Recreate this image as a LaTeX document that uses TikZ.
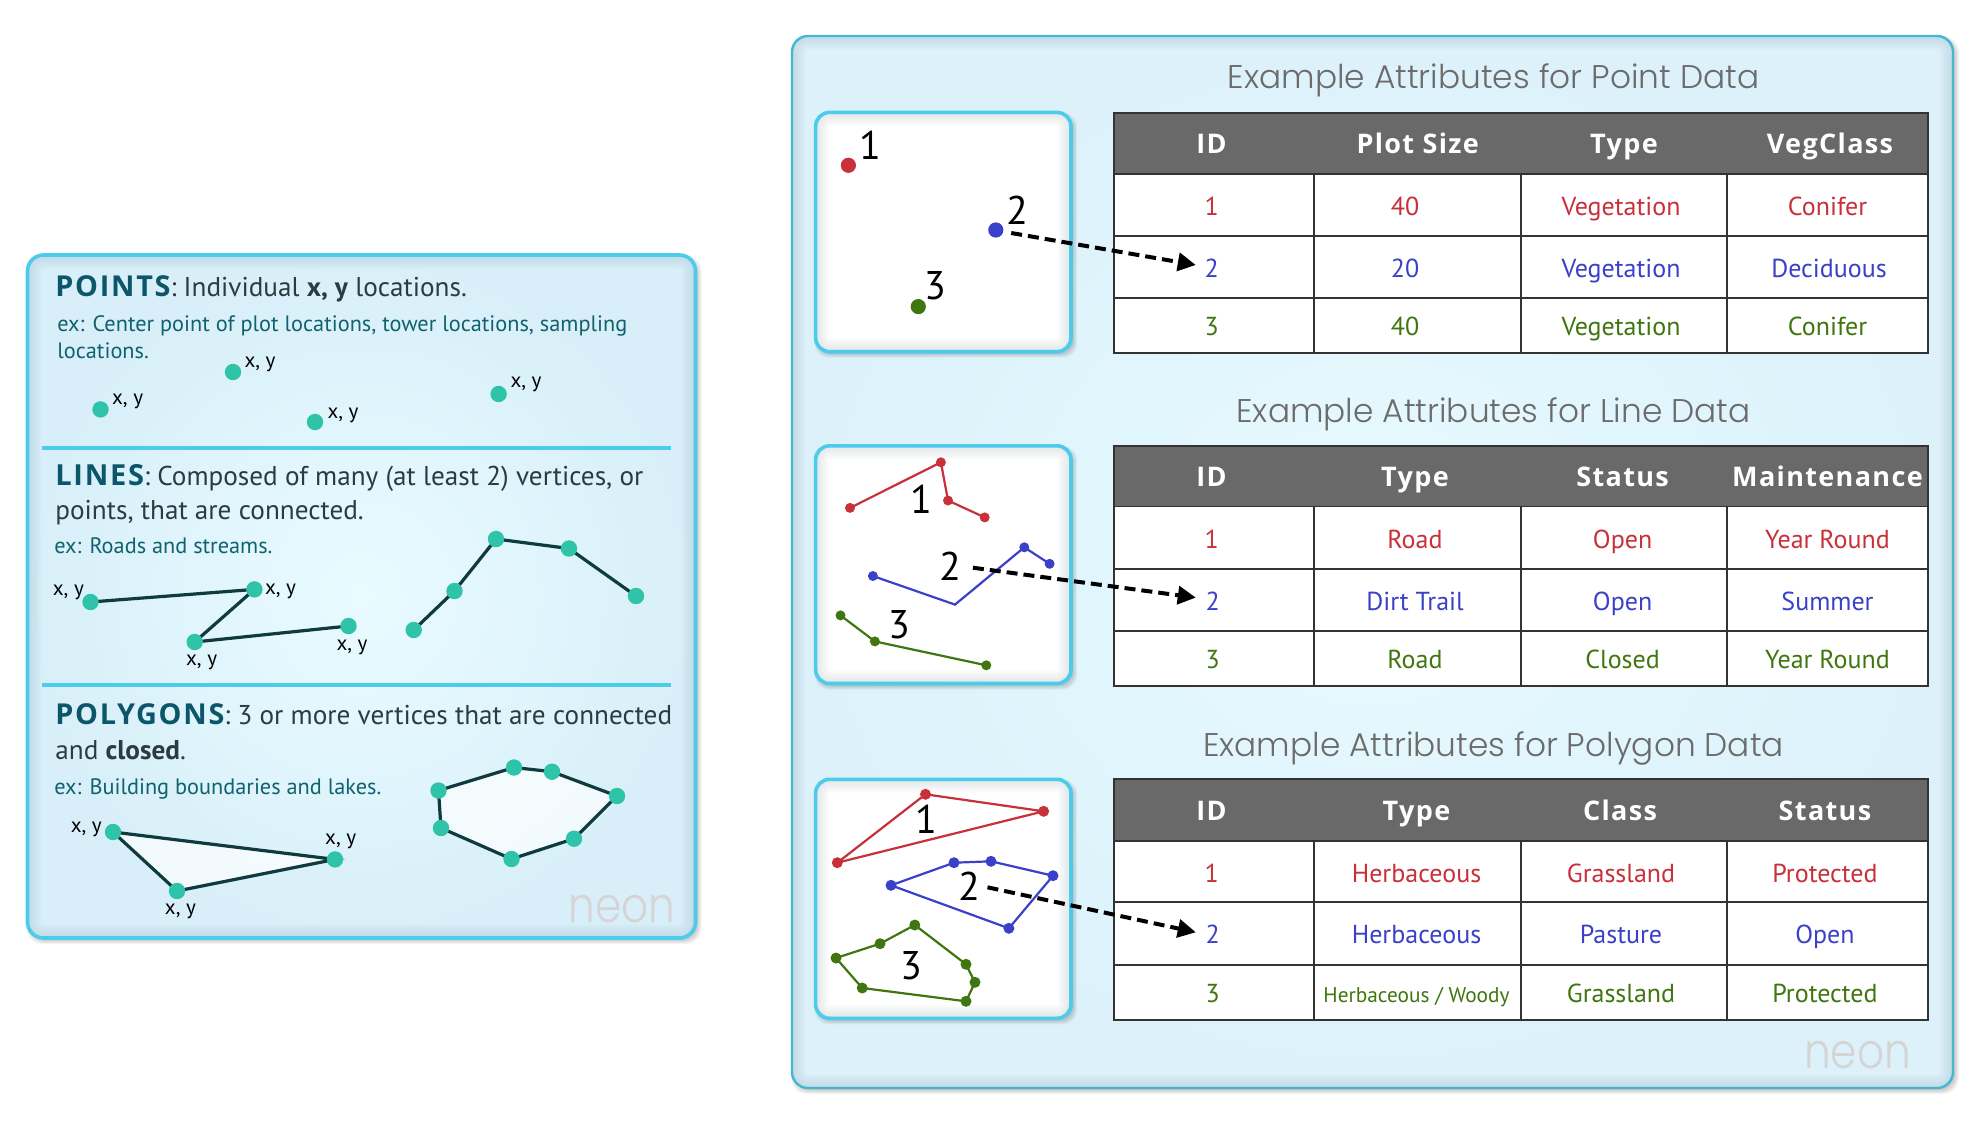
\documentclass[tikz,border=0pt]{standalone}
\usepackage{fontspec}
\usetikzlibrary{arrows.meta}
\setmainfont{PT Sans}
\newfontfamily\hdfont[LetterSpace=6]{Open Sans}
\newfontfamily\thfont[LetterSpace=5]{Open Sans}
\newfontfamily\ttlfont{Poppins Light}
\newcommand{\fsz}[1]{\fontsize{#1}{#1}\selectfont}
\definecolor{cyanb}{HTML}{4CCBEA}
\definecolor{tealh}{HTML}{0B5668}
\definecolor{tealx}{HTML}{10626F}
\definecolor{bodyc}{HTML}{2C3B40}
\definecolor{dotc}{HTML}{2FC4A9}
\definecolor{linec}{HTML}{0F3A3E}
\definecolor{rd}{HTML}{C8303A}
\definecolor{bl}{HTML}{3A40C8}
\definecolor{gr}{HTML}{40760F}
\definecolor{hdrc}{HTML}{696969}
\definecolor{gridc}{HTML}{333333}
\definecolor{lpin}{HTML}{E9FBFF}
\definecolor{lpout}{HTML}{D8EFF9}
\definecolor{rpin}{HTML}{E7FAFF}
\definecolor{rpout}{HTML}{DCF1FA}
\pgfdeclarelayer{back}
\pgfdeclarelayer{lines}
\pgfsetlayers{back,lines,main}
\tikzset{
  lab/.style={inner sep=0pt,anchor=center,font=\fsz{10.5},text=black,text height=.55em,text depth=0pt},
  lt/.style={inner sep=0pt,anchor=base west,font=\fsz{13.6},text=bodyc},
  ex/.style={inner sep=0pt,anchor=base west,font=\fsz{11.15},text=tealx},
  vdot/.style={circle,fill=dotc,inner sep=0pt,outer sep=0pt,minimum size=8.2pt},
  vline/.style={draw=linec,line width=1.6pt},
  sm/.style={circle,inner sep=0pt,outer sep=0pt,minimum size=5pt},
  num/.style={inner sep=0pt,anchor=center,font=\fsz{20},text=black},
  th/.style={inner sep=0pt,anchor=center,font=\thfont\bfseries\fsz{13.5},text=white,text height=.7em,text depth=0pt,yshift=-1.2pt},
  td/.style={inner sep=0pt,anchor=center,font=\fsz{13},text height=.7em,text depth=0pt,yshift=-1pt},
  ttl/.style={inner sep=0pt,anchor=center,font=\ttlfont\fsz{16.4},text=black!58,text height=.7em,text depth=0pt,yshift=-2.3pt},
  logo/.style={inner sep=0pt,anchor=base,font=\ttlfont\fsz{24.5},text=black!17,xscale=.86,transform shape},
  dasharrow/.style={line width=2pt,dash pattern=on 5.5pt off 3pt,-{Triangle[length=9pt,width=9pt]}},
}
% shadow + body + inner edge glow
\newcommand{\panel}[7]{%
  \foreach \i in {1,...,7}{
    \fill[black,opacity=.045,rounded corners=#5pt]
      ({#1-\i+6},{#2-\i+7}) rectangle ({#3+\i-1},{#4+\i-1});
  }
  \begin{scope}
    \clip[rounded corners=#5pt] (#1,#2) rectangle (#3,#4);
    \shade[inner color=#6,outer color=#7] (#1,#2) rectangle (#3,#4);
    \foreach \i in {1,...,6}{
      \draw[color=black!60!cyan,opacity=.022,line width=\i*2.2pt,rounded corners=#5pt]
        (#1,#2) rectangle (#3,#4);
    }
  \end{scope}
}
\newcommand{\gridtable}[5]{% top head r1 r2 bot
  \fill[white] (1114,#1) rectangle (1928,#5);
  \fill[hdrc] (1114,#1) rectangle (1928,#2);
  \draw[gridc,line width=.9pt] (1114,#1) rectangle (1928,#5);
  \draw[gridc,line width=.9pt] (1114,#2) -- (1928,#2) (1114,#3) -- (1928,#3) (1114,#4) -- (1928,#4);
  \draw[gridc,line width=.9pt] (1314,#2) -- (1314,#5) (1521,#2) -- (1521,#5) (1727,#2) -- (1727,#5);
}
\begin{document}
\begin{tikzpicture}[x=0.5pt,y=-0.5pt]
\useasboundingbox (0,0) rectangle (1983,1125);
\begin{pgfonlayer}{back}
  \fill[white] (0,0) rectangle (1983,1125);
  % left panel
  \panel{27.5}{255}{695.5}{938}{8}{lpin}{lpout}
  \draw[cyanb,line width=1.8pt,rounded corners=8pt] (27.5,255) rectangle (695.5,938);
  \draw[cyanb,line width=1.6pt] (42,448) -- (671,448) (42,685) -- (671,685);
  % right panel
  \panel{792}{36}{1953}{1088}{8}{rpin}{rpout}
  \draw[cyanb!90!black,line width=1.2pt,rounded corners=8pt] (792,36) rectangle (1953,1088);
  % small boxes
  \panel{815.6}{112.4}{1071}{351.7}{7}{white}{white}
  \draw[cyanb,line width=1.8pt,rounded corners=7pt] (815.6,112.4) rectangle (1071,351.7);
  \panel{815.6}{445.8}{1071}{683.5}{7}{white}{white}
  \draw[cyanb,line width=1.8pt,rounded corners=7pt] (815.6,445.8) rectangle (1071,683.5);
  \panel{815.6}{779.3}{1071}{1018.3}{7}{white}{white}
  \draw[cyanb,line width=1.8pt,rounded corners=7pt] (815.6,779.3) rectangle (1071,1018.3);
  % tables
  \gridtable{112.7}{174}{236}{298}{353}
  \gridtable{445.8}{506.5}{568.6}{630.6}{685.6}
  \gridtable{779.3}{840.7}{902}{965}{1020}
\end{pgfonlayer}

% ---- left panel texts
\node[lt] (ptsT) at (55,296) {{\hdfont\bfseries\color{tealh}\fsz{14.4}POINTS}: Individual \textbf{x, y} locations.};
\node[ex] (ptsE1) at (57,331) {ex: Center point of plot locations, tower locations, sampling};
\node[ex] (ptsE2) at (57,358) {locations.};
\node[lt] (linT1) at (55,485) {{\hdfont\bfseries\color{tealh}\fsz{14.5}LINES}: Composed of many (at least 2) vertices, or};
\node[lt] (linT2) at (55,519) {points, that are connected.};
\node[ex] (linE) at (54,553) {ex: Roads and streams.};
\node[lt] (polT1) at (55,724) {{\hdfont\bfseries\color{tealh}\fsz{14.4}POLYGONS}: 3 or more vertices that are connected};
\node[lt] (polT2) at (55,759) {and \textbf{closed}.};
\node[ex] (polE) at (54,794) {ex: Building boundaries and lakes.};

% ---- points
\node[vdot] (p1) at (100.5,409.4) {};
\node[vdot] (p2) at (233,372) {};
\node[vdot] (p3) at (315,422) {};
\node[vdot] (p4) at (498.6,394) {};
\node[lab] (pl1) at (127.6,399) {x, y};
\node[lab] (pl2) at (260,362) {x, y};
\node[lab] (pl3) at (343,412.6) {x, y};
\node[lab] (pl4) at (526,382) {x, y};

% ---- lines
\node[vdot] (a1) at (90.5,602) {};
\node[vdot] (a2) at (254.4,589.4) {};
\node[vdot] (a3) at (194.7,642) {};
\node[vdot] (a4) at (348.5,626) {};
\node[lab] (al1) at (68.4,590) {x, y};
\node[lab] (al2) at (280.5,589) {x, y};
\node[lab] (al3) at (201.6,659.6) {x, y};
\node[lab] (al4) at (352,644.5) {x, y};
\node[vdot] (b1) at (413.7,630) {};
\node[vdot] (b2) at (454.5,591) {};
\node[vdot] (b3) at (496,539) {};
\node[vdot] (b4) at (569,548.5) {};
\node[vdot] (b5) at (636,596) {};

% ---- polygons
\node[vdot] (c1) at (113,832) {};
\node[vdot] (c2) at (335,859.4) {};
\node[vdot] (c3) at (177,891) {};
\node[lab] (cl1) at (86.3,827) {x, y};
\node[lab] (cl2) at (340.7,838.7) {x, y};
\node[lab] (cl3) at (180.4,909) {x, y};
\node[vdot] (d1) at (438.5,790.5) {};
\node[vdot] (d2) at (514,767.5) {};
\node[vdot] (d3) at (552,771.7) {};
\node[vdot] (d4) at (617,796) {};
\node[vdot] (d5) at (574,838.7) {};
\node[vdot] (d6) at (511.5,859) {};
\node[vdot] (d7) at (441,828) {};

\begin{pgfonlayer}{lines}
  \draw[vline] (a1.center) -- (a2.center) -- (a3.center) -- (a4.center);
  \draw[vline] (b1.center) -- (b2.center) -- (b3.center) -- (b4.center) -- (b5.center);
  \draw[vline,fill=white,fill opacity=.7,line join=miter] (c1.center) -- (c2.center) -- (c3.center) -- cycle;
  \draw[vline,fill=white,fill opacity=.7] (d1.center) -- (d2.center) -- (d3.center) -- (d4.center) -- (d5.center) -- (d6.center) -- (d7.center) -- cycle;
\end{pgfonlayer}

\node[logo] (logoL) at (622,922) {neon};

% ---- right titles
\node[ttl] (t1) at (1493.6,77) {Example Attributes for Point Data};
\node[ttl] (t2) at (1493.6,411) {Example Attributes for Line Data};
\node[ttl] (t3) at (1493.6,745) {Example Attributes for Polygon Data};
\node[logo] (logoR) at (1857.5,1068) {neon};

% ---- small box 1
\node[circle,fill=rd,inner sep=0pt,minimum size=7.6pt] (s1) at (848.4,165.3) {};
\node[circle,fill=bl,inner sep=0pt,minimum size=7.6pt] (s2) at (995.8,230) {};
\node[circle,fill=gr,inner sep=0pt,minimum size=7.6pt] (s3) at (918.3,306.6) {};
\node[num] (sn1) at (870.5,145) {1};
\node[num] (sn2) at (1017.5,210) {2};
\node[num] (sn3) at (935.3,286) {3};

% ---- small box 2
\node[sm,fill=rd] (r1) at (850,507.9) {};
\node[sm,fill=rd] (r2) at (940.9,462.3) {};
\node[sm,fill=rd] (r3) at (948,500.5) {};
\node[sm,fill=rd] (r4) at (984.7,517.4) {};
\node[sm,fill=bl] (u1) at (872.9,576) {};
\coordinate (u2) at (955,604.6);
\node[sm,fill=bl] (u3) at (1024.3,547.3) {};
\node[sm,fill=bl] (u4) at (1049.6,563.8) {};
\node[sm,fill=gr] (g1) at (840.5,615.4) {};
\node[sm,fill=gr] (g2) at (874.9,641.4) {};
\node[sm,fill=gr] (g3) at (986.3,665.3) {};
\node[num] (ln1) at (921,499) {1};
\node[num] (ln2) at (950,566) {2};
\node[num] (ln3) at (899,625) {3};
\begin{pgfonlayer}{lines}
  \draw[rd,line width=1.1pt] (r1.center) -- (r2.center) -- (r3.center) -- (r4.center);
  \draw[bl,line width=1.1pt] (u1.center) -- (u2) -- (u3.center) -- (u4.center);
  \draw[gr,line width=1.1pt] (g1.center) -- (g2.center) -- (g3.center);
\end{pgfonlayer}

% ---- small box 3
\node[sm,fill=rd,minimum size=5.5pt] (pr1) at (925.5,794.3) {};
\node[sm,fill=rd,minimum size=5.5pt] (pr2) at (1043.6,811.3) {};
\node[sm,fill=rd,minimum size=5.5pt] (pr3) at (837.3,862.7) {};
\node[sm,fill=bl,minimum size=5.5pt] (pb1) at (891,885.3) {};
\node[sm,fill=bl,minimum size=5.5pt] (pb2) at (954,862.7) {};
\node[sm,fill=bl,minimum size=5.5pt] (pb3) at (991,861.3) {};
\node[sm,fill=bl,minimum size=5.5pt] (pb4) at (1053,875.7) {};
\node[sm,fill=bl,minimum size=5.5pt] (pb5) at (1008.9,928.3) {};
\node[sm,fill=gr,minimum size=5.5pt] (pg1) at (836,958) {};
\node[sm,fill=gr,minimum size=5.5pt] (pg2) at (880,943.7) {};
\node[sm,fill=gr,minimum size=5.5pt] (pg3) at (914.8,925) {};
\node[sm,fill=gr,minimum size=5.5pt] (pg4) at (966,964.3) {};
\node[sm,fill=gr,minimum size=5.5pt] (pg5) at (975,982.3) {};
\node[sm,fill=gr,minimum size=5.5pt] (pg6) at (966,1001.3) {};
\node[sm,fill=gr,minimum size=5.5pt] (pg7) at (862.2,988) {};
\node[num] (gn1) at (926.6,819.3) {1};
\node[num] (gn2) at (969,886) {2};
\node[num] (gn3) at (911.6,966) {3};
\begin{pgfonlayer}{lines}
  \draw[rd,line width=1.1pt] (pr1.center) -- (pr2.center) -- (pr3.center) -- cycle;
  \draw[bl,line width=1.1pt] (pb1.center) -- (pb2.center) -- (pb3.center) -- (pb4.center) -- (pb5.center) -- cycle;
  \draw[gr,line width=1.1pt] (pg1.center) -- (pg2.center) -- (pg3.center) -- (pg4.center) -- (pg5.center) -- (pg6.center) -- (pg7.center) -- cycle;
\end{pgfonlayer}

% ---- table 1
\node[th] (h11) at (1211.6,144) {ID};
\node[th] (h12) at (1417.7,144) {Plot Size};
\node[th] (h13) at (1624,144) {Type};
\node[th] (h14) at (1830,144) {VegClass};
\node[td,text=rd] (a11) at (1211.6,206) {1};
\node[td,text=rd] (a12) at (1405,206) {40};
\node[td,text=rd] (a13) at (1621,206) {Vegetation};
\node[td,text=rd] (a14) at (1827.5,206) {Conifer};
\node[td,text=bl] (a21) at (1211.6,268) {2};
\node[td,text=bl] (a22) at (1405,268) {20};
\node[td,text=bl] (a23) at (1621,268) {Vegetation};
\node[td,text=bl] (a24) at (1829,268) {Deciduous};
\node[td,text=gr] (a31) at (1211.6,326) {3};
\node[td,text=gr] (a32) at (1405,326) {40};
\node[td,text=gr] (a33) at (1621,326) {Vegetation};
\node[td,text=gr] (a34) at (1827.5,326) {Conifer};

% ---- table 2
\node[th] (h21) at (1211.6,477) {ID};
\node[th] (h22) at (1415,477) {Type};
\node[th] (h23) at (1622.6,477) {Status};
\node[th] (h24) at (1827.5,477) {Maintenance};
\node[td,text=rd] (e11) at (1211.6,539) {1};
\node[td,text=rd] (e12) at (1415,539) {Road};
\node[td,text=rd] (e13) at (1622.6,539) {Open};
\node[td,text=rd] (e14) at (1827.5,539) {Year Round};
\node[td,text=bl] (e21) at (1212.6,601) {2};
\node[td,text=bl] (e22) at (1415,601) {Dirt Trail};
\node[td,text=bl] (e23) at (1622.6,601) {Open};
\node[td,text=bl] (e24) at (1827.5,601) {Summer};
\node[td,text=gr] (e31) at (1212.6,659) {3};
\node[td,text=gr] (e32) at (1415,659) {Road};
\node[td,text=gr] (e33) at (1622.6,659) {Closed};
\node[td,text=gr] (e34) at (1827.5,659) {Year Round};

% ---- table 3
\node[th] (h31) at (1211.6,811) {ID};
\node[th] (h32) at (1416.5,811) {Type};
\node[th] (h33) at (1620,811) {Class};
\node[th] (h34) at (1825,811) {Status};
\node[td,text=rd] (f11) at (1211.6,873) {1};
\node[td,text=rd] (f12) at (1416.5,873) {Herbaceous};
\node[td,text=rd] (f13) at (1621,873) {Grassland};
\node[td,text=rd] (f14) at (1825,873) {Protected};
\node[td,text=bl] (f21) at (1212.6,934.6) {2};
\node[td,text=bl] (f22) at (1416.5,934.6) {Herbaceous};
\node[td,text=bl] (f23) at (1621,934.6) {Pasture};
\node[td,text=bl] (f24) at (1825,934.6) {Open};
\node[td,text=gr] (f31) at (1212.6,993) {3};
\node[td,text=gr,font=\fsz{10.66}] (f32) at (1416.5,993) {Herbaceous / Woody};
\node[td,text=gr] (f33) at (1621,993) {Grassland};
\node[td,text=gr] (f34) at (1825,993) {Protected};

% ---- arrows
\coordinate (ar1s) at (1011.2,233);
\coordinate (ar1e) at (1195.8,265);
\coordinate (ar2s) at (972.9,567.7);
\coordinate (ar2e) at (1195.8,597.6);
\coordinate (ar3s) at (987.5,887.3);
\coordinate (ar3e) at (1195.8,932.3);
\draw[dasharrow] (ar1s) -- (ar1e);
\draw[dasharrow] (ar2s) -- (ar2e);
\draw[dasharrow] (ar3s) -- (ar3e);
\end{tikzpicture}
\end{document}
